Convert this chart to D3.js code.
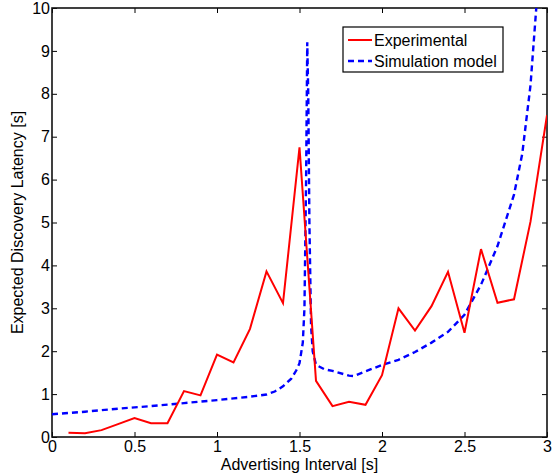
<!DOCTYPE html>
<html>
<head>
<meta charset="utf-8">
<script src="https://cdn.jsdelivr.net/npm/d3@7"></script>
<style>
  body { margin: 0; background: #fff; }
  text { font-family: "Liberation Sans", Arial, sans-serif; fill: #000; }
</style>
</head>
<body>
<div id="chart"></div>
<script>
// expected discovery latency vs advertising interval

var expX = [0.1, 0.2, 0.3, 0.4, 0.5, 0.6, 0.7, 0.8, 0.9, 1.0, 1.1, 1.2, 1.3, 1.4, 1.5,
            1.6, 1.7, 1.8, 1.9, 2.0, 2.1, 2.2, 2.3, 2.4, 2.5, 2.6, 2.7, 2.8, 2.9, 3.0];
var expY = [0.10, 0.09, 0.16, 0.30, 0.44, 0.32, 0.32, 1.07, 0.97, 1.92, 1.74, 2.52, 3.86, 3.12, 6.75,
            1.31, 0.72, 0.82, 0.75, 1.44, 3.00, 2.48, 3.05, 3.85, 2.43, 4.38, 3.13, 3.21, 5.02, 7.50];

var simX = [0, 0.2, 0.4, 0.6, 0.8, 1.0, 1.1, 1.2, 1.3, 1.35, 1.4, 1.45, 1.48, 1.5, 1.52, 1.53,
            1.54, 1.547, 1.553, 1.56, 1.57, 1.58, 1.6, 1.65, 1.7, 1.8, 1.83, 1.9, 2.0, 2.1,
            2.2, 2.3, 2.4, 2.5, 2.6, 2.7, 2.8, 2.85, 2.9, 2.935, 2.95];
var simY = [0.53, 0.59, 0.66, 0.72, 0.79, 0.86, 0.90, 0.94, 0.99, 1.06, 1.18, 1.36, 1.55, 1.72, 2.2, 3.0,
            6.0, 9.2, 8.0, 5.0, 2.6, 2.0, 1.68, 1.58, 1.54, 1.43, 1.42, 1.53, 1.68, 1.80,
            1.98, 2.2, 2.45, 2.85, 3.55, 4.45, 5.65, 6.6, 8.2, 10.0, 10.6];

var xTicks = [0, 0.5, 1, 1.5, 2, 2.5, 3];
var yTicks = [0, 1, 2, 3, 4, 5, 6, 7, 8, 9, 10];
var seriesNames = ["Experimental", "Simulation model"];

var width = 560, height = 475;
var margin = {top: 8, left: 52, bottom: 38, right: 13};
var w = width - margin.left - margin.right;
var h = height - margin.top - margin.bottom;
var fs = "16px";

var svg = d3.select("#chart").append("svg")
    .attr("width", width)
    .attr("height", height);

var g = svg.append("g")
    .attr("transform", "translate(" + margin.left + "," + margin.top + ")");

var x = d3.scaleLinear().domain([0, 3]).range([0, w]);
var y = d3.scaleLinear().domain([0, 10]).range([h, 0]);

g.append("clipPath").attr("id", "clip")
  .append("rect").attr("width", w).attr("height", h);

// axes, ticks pointing inward
var fmt = d3.format("");
g.append("g").attr("class", "ax")
    .attr("transform", "translate(0," + h + ")")
    .call(d3.axisBottom(x).tickValues(xTicks).tickSizeInner(-5).tickSizeOuter(0).tickPadding(4).tickFormat(fmt));
g.append("g").attr("class", "ax")
    .call(d3.axisTop(x).tickValues(xTicks).tickSizeInner(-5).tickSizeOuter(0).tickFormat(""));
g.append("g").attr("class", "ax")
    .call(d3.axisLeft(y).tickValues(yTicks).tickSizeInner(-5).tickSizeOuter(0).tickPadding(2).tickFormat(fmt));
g.append("g").attr("class", "ax")
    .attr("transform", "translate(" + w + ",0)")
    .call(d3.axisRight(y).tickValues(yTicks).tickSizeInner(-5).tickSizeOuter(0).tickFormat(""));

g.selectAll(".ax .domain").remove();
g.selectAll(".ax line").attr("stroke", "#000").attr("stroke-width", 1);
g.selectAll(".ax text").style("font-size", fs)
    .style("font-family", "'Liberation Sans', Arial, sans-serif").attr("fill", "#000");

g.append("rect")
    .attr("width", w).attr("height", h)
    .attr("fill", "none").attr("stroke", "#111").attr("stroke-width", 1.6);

var line = d3.line().x(d => x(d[0])).y(d => y(d[1]));

var plot = g.append("g").attr("clip-path", "url(#clip)");

plot.append("path")
    .datum(simX.map((v, i) => [v, simY[i]]))
    .attr("d", line)
    .attr("fill", "none")
    .attr("stroke", "#0000ff")
    .attr("stroke-width", 2.4)
    .attr("stroke-dasharray", "6,4");

plot.append("path")
    .datum(expX.map((v, i) => [v, expY[i]]))
    .attr("d", line)
    .attr("fill", "none")
    .attr("stroke", "#ff0000")
    .attr("stroke-width", 2);

// axis labels
svg.append("text")
    .attr("x", margin.left + w / 2)
    .attr("y", 470)
    .attr("text-anchor", "middle")
    .style("font-size", fs)
    .text("Advertising Interval [s]");

svg.append("text")
    .attr("transform", "translate(23," + (margin.top + h / 2) + ") rotate(-90)")
    .attr("text-anchor", "middle")
    .style("font-size", fs)
    .text("Expected Discovery Latency [s]");

// legend
var lg = svg.append("g").attr("transform", "translate(343,27)");
lg.append("rect")
    .attr("width", 160).attr("height", 45)
    .attr("fill", "#fff").attr("stroke", "#000").attr("stroke-width", 1.2);
var colors = ["#ff0000", "#0000ff"];
var dashes = [null, "6,4"];
seriesNames.forEach(function(name, i) {
  var yy = 13 + i * 21;
  lg.append("line")
      .attr("x1", 5).attr("x2", 29).attr("y1", yy).attr("y2", yy)
      .attr("stroke", colors[i])
      .attr("stroke-width", i ? 2.4 : 2)
      .attr("stroke-dasharray", dashes[i]);
  lg.append("text")
      .attr("x", 31).attr("y", yy + 6)
      .style("font-size", fs)
      .text(name);
});
</script>
</body>
</html>
